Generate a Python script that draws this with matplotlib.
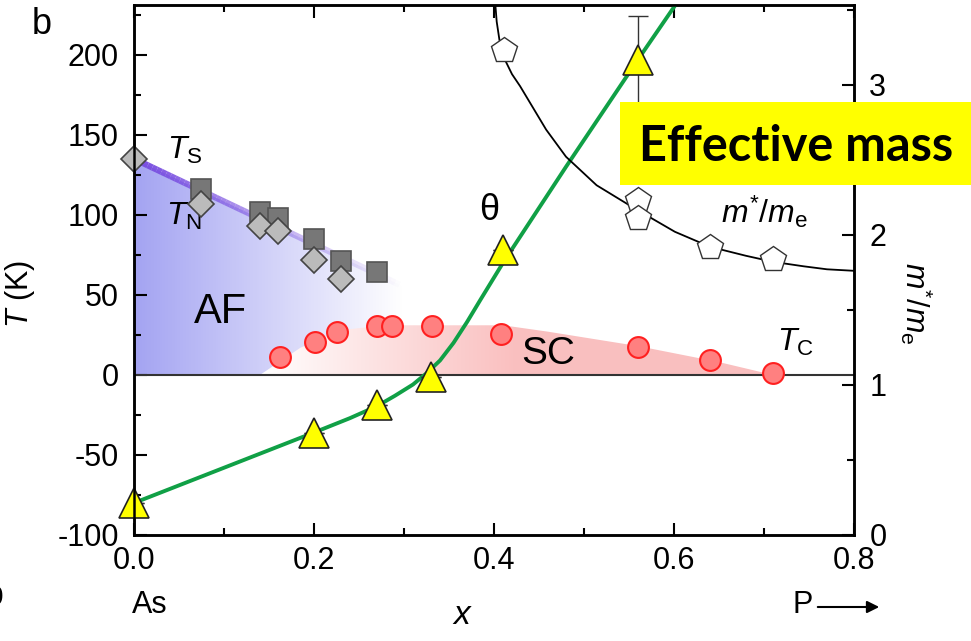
# Phase diagram of BaFe2(As1-xPx)2 with theta and effective mass
import numpy as np
import matplotlib.pyplot as plt
from matplotlib.patches import Polygon
from matplotlib.collections import LineCollection

plt.rcParams['font.family'] = ['Liberation Sans', 'DejaVu Sans']
plt.rcParams['mathtext.fontset'] = 'custom'
plt.rcParams['mathtext.rm'] = 'Liberation Sans'
plt.rcParams['mathtext.it'] = 'Liberation Sans:italic'
plt.rcParams['axes.unicode_minus'] = False

# data
ts_x = [0.075, 0.14, 0.16, 0.20, 0.23, 0.27]
ts_y = [116, 102, 98, 85, 71, 64]
tn_x = [0.0, 0.074, 0.14, 0.16, 0.20, 0.23]
tn_y = [135, 107, 93, 90, 72, 60]
tc_x = [0.162, 0.201, 0.226, 0.27, 0.287, 0.331, 0.408, 0.56, 0.64, 0.71]
tc_y = [11, 20.5, 27, 30.5, 30.5, 30.5, 25.5, 17.5, 9.5, 1]
theta_x = [0.0, 0.20, 0.27, 0.33, 0.41, 0.56]
theta_y = [-80, -36, -19, -1, 78, 197]
theta_err = [0, 0, 0, 0, 0, 27]
theta_line_x = [0.0, 0.1, 0.2, 0.24, 0.27, 0.29, 0.31, 0.325, 0.34, 0.355, 0.37, 0.385,
                0.41, 0.48, 0.56, 0.61]
theta_line_y = [-80, -58, -36, -27, -19.5, -13, -6, 1, 9, 20, 33, 47, 70, 130, 197, 238]
mass_x = [0.411, 0.56, 0.56, 0.64, 0.71]
mass_y = [3.23, 2.23, 2.11, 1.92, 1.84]
mass_line_x = [0.401, 0.403, 0.406, 0.411, 0.42, 0.429, 0.44, 0.458, 0.48, 0.514, 0.555,
               0.601, 0.64, 0.68, 0.71, 0.744, 0.77, 0.8]
mass_line_y = [3.57, 3.42, 3.30, 3.18, 3.07, 2.99, 2.88, 2.70, 2.52, 2.33, 2.18,
               2.02, 1.92, 1.86, 1.82, 1.79, 1.77, 1.76]
af_x = [0.0, 0.0, 0.30, 0.34]
af_y = [0, 135, 55, 0]
sc_x = [0.14, 0.185, 0.23, 0.28, 0.41, 0.46, 0.56, 0.65, 0.71]
sc_y = [0, 17, 28, 31, 31, 27, 18, 8, 0]
ts_band_x = [0.0, 0.30]
ts_band_y = [135, 55]

fig = plt.figure(figsize=(9.71, 6.41), dpi=100)
ax = fig.add_axes([0.138, 0.1654, 0.7415, 0.8266])
ax.set_xlim(0, 0.8)
ax.set_ylim(-100, 231)

# AF region: blue fading to the right
nx = 200
grad = np.linspace(0, 1, nx)
img = np.ones((2, nx, 4))
img[..., 0] = 0.64
img[..., 1] = 0.64
img[..., 2] = 0.95
img[..., 3] = np.clip(1 - grad / 0.88, 0, 1)[None, :]
poly = Polygon(list(zip(af_x, af_y)), closed=True, facecolor='none', edgecolor='none')
ax.add_patch(poly)
im = ax.imshow(img, extent=[0, 0.34, 0, 140], aspect='auto', origin='lower',
               interpolation='bilinear', zorder=1)
im.set_clip_path(poly)

# SC dome: white to pink
img2 = np.ones((2, nx, 4))
t = np.clip(grad / 0.5, 0, 1)
img2[..., 0] = 1.0 - 0.02 * t
img2[..., 1] = 1.0 - 0.25 * t
img2[..., 2] = 1.0 - 0.25 * t
poly2 = Polygon(list(zip(sc_x, sc_y)), closed=True, facecolor='none', edgecolor='none')
ax.add_patch(poly2)
im2 = ax.imshow(img2, extent=[0.14, 0.71, 0, 32], aspect='auto', origin='lower',
                interpolation='bilinear', zorder=1.5)
im2.set_clip_path(poly2)

# Ts band fading out
bx = np.linspace(ts_band_x[0], ts_band_x[1], 60)
by = np.interp(bx, ts_band_x, ts_band_y)
segs = [[(bx[i], by[i]), (bx[i + 1], by[i + 1])] for i in range(len(bx) - 1)]
alphas = np.linspace(1, 0, len(segs))
cols = [(0.47, 0.30, 0.88, a) for a in alphas]
ax.add_collection(LineCollection(segs, colors=cols, linewidths=4.5, zorder=2))

ax.axhline(0, color='#333333', lw=1.5, zorder=2)

ax.plot(ts_x, ts_y, 's', ms=15, mfc='#777777', mec='#555555', mew=1.2, zorder=4)
ax.plot(tn_x, tn_y, 'D', ms=13, mfc='#bbbbbb', mec='#444444', mew=1.2, zorder=5, clip_on=False)
ax.plot(tc_x, tc_y, 'o', ms=15, mfc='#ff8080', mec='#ff2020', mew=1.5, zorder=5)

ax.plot(theta_line_x, theta_line_y, '-', color='#10a046', lw=2.8, zorder=3)
ax.errorbar(theta_x, theta_y, yerr=theta_err, fmt='none', ecolor='#333333',
            elinewidth=1, capsize=7, capthick=1, zorder=3)
ax.plot(theta_x, theta_y, '^', ms=22, mfc='#ffff00', mec='#222222', mew=1.2,
        zorder=6, clip_on=False)

ax.set_xticks([0.0, 0.2, 0.4, 0.6, 0.8])
ax.set_xticklabels(['0.0', '0.2', '0.4', '0.6', '0.8'])
ax.set_xticks(np.arange(0.1, 0.8, 0.2), minor=True)
ax.set_yticks([-100, -50, 0, 50, 100, 150, 200])
ax.set_yticks([-75, -25, 25, 75, 125, 175, 225], minor=True)
ax.tick_params(which='both', direction='in', top=True, right=False, width=1.5,
               labelsize=22)
ax.tick_params(which='major', length=9)
ax.tick_params(which='minor', length=5)
ax.tick_params(axis='x', pad=8)
ax.tick_params(axis='y', pad=11)
for s in ax.spines.values():
    s.set_linewidth(1.8)
ax.set_ylabel('$T$ (K)', fontsize=22)
ax.yaxis.set_label_coords(-0.135, 0.455)

ax2 = ax.twinx()
ax2.set_ylim(0, 3.53)
ax2.plot(mass_line_x, mass_line_y, '-', color='black', lw=1.3, zorder=3)
ax2.plot(mass_x, mass_y, 'p', ms=19, mfc='white', mec='#333333', mew=1.0, zorder=4)
ax2.set_yticks([0, 1, 2, 3])
ax2.set_yticks([0.5, 1.5, 2.5, 3.5], minor=True)
ax2.tick_params(which='both', direction='in', width=1.5, labelsize=22, pad=11)
ax2.tick_params(which='major', length=9)
ax2.tick_params(which='minor', length=5)
for s in ax2.spines.values():
    s.set_linewidth(1.8)
ax2.set_ylabel(r'$m^{*}/m_\mathrm{e}$', fontsize=22, rotation=270)
ax2.yaxis.set_label_coords(1.112, 0.438)

# in-plot labels
ax.text(0.096, 39, 'AF', fontsize=30, ha='center', va='center', zorder=7)
ax.text(0.46, 13, 'SC', fontsize=28, ha='center', va='center', zorder=7)
ax.text(0.037, 140, r'$T_\mathrm{S}$', fontsize=23, ha='left', va='center')
ax.text(0.036, 99, r'$T_\mathrm{N}$', fontsize=23, ha='left', va='center')
ax.text(0.715, 20, r'$T_\mathrm{C}$', fontsize=23, ha='left', va='center')
ax.text(0.395, 103, 'θ', fontsize=26, ha='center', va='center')
ax.text(0.70, 102, r'$m^{*}/m_\mathrm{e}$', fontsize=23, ha='center', va='center')

fig.text(42 / 971, 1 - 25 / 641, 'b', fontsize=26, ha='center', va='center')
fig.text(150 / 971, 1 - 605 / 641, 'As', fontsize=22, ha='center', va='center')
fig.text(462 / 971, 1 - 615 / 641, 'x', fontsize=24, style='italic', ha='center', va='center')
fig.text(803 / 971, 1 - 605 / 641, 'P', fontsize=22, ha='center', va='center')
fig.text(-12 / 971, 1 - 598 / 641, '0', fontsize=20, ha='left', va='center')
ax.annotate('', xy=(882 / 971, 1 - 607 / 641), xytext=(815 / 971, 1 - 607 / 641),
            xycoords='figure fraction', textcoords='figure fraction',
            arrowprops=dict(arrowstyle='-|>', lw=1.5, color='black', mutation_scale=18))

# yellow highlight box
fig.text(796 / 971, 1 - 146 / 641, 'Effective mass', fontsize=35, fontweight='bold',
         family=['Lato', 'DejaVu Sans'], ha='center', va='center', zorder=20)
fig.patches.append(plt.Rectangle((620 / 971, 1 - 185 / 641), 360 / 971, 83 / 641,
                                 transform=fig.transFigure, facecolor='#ffff00',
                                 edgecolor='none', zorder=19))

fig.savefig('out.png', dpi=100)
